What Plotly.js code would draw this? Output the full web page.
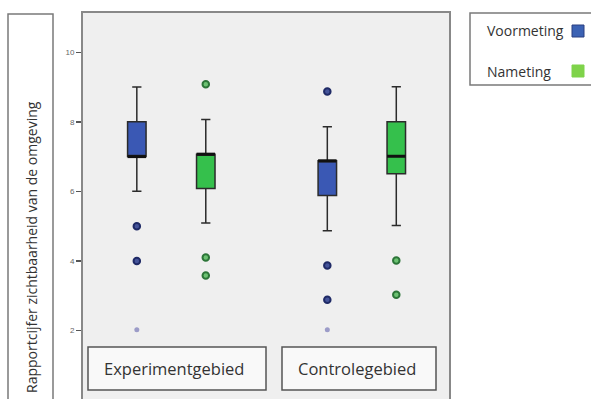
<!DOCTYPE html>
<html>
<head>
<meta charset="utf-8">
<script src="https://cdn.plot.ly/plotly-3.0.1.min.js"></script>
<style>
  html, body { margin: 0; padding: 0; overflow: hidden; background: #ffffff; }
  #chart { width: 591px; height: 402px; }
</style>
</head>
<body>
<div id="chart"></div>
<script>
// Areas (groups along x) and the two measurement moments (series)
const groups = ['Experimentgebied', 'Controlegebied'];
const seriesNames = ['Voormeting', 'Nameting'];

// Box statistics per area, Voormeting
const voorLower  = [6.0, 4.87];
const voorQ1     = [7.0, 5.88];
const voorMedian = [7.0, 6.88];
const voorQ3     = [8.0, 6.88];
const voorUpper  = [9.0, 7.86];
const voorOutliers = [[5.0, 4.0], [8.87, 3.87, 2.88]];
const voorExtremes = [[2.02], [2.02]];

// Box statistics per area, Nameting
const naLower  = [5.09, 5.02];
const naQ1     = [6.08, 6.51];
const naMedian = [7.07, 7.01];
const naQ3     = [7.07, 8.0];
const naUpper  = [8.07, 9.01];
const naOutliers = [[9.08, 4.1, 3.58], [4.01, 3.03]];
const naExtremes = [[], []];

const yTicks = [0, 2, 4, 6, 8, 10];
const yTitle = 'Rapportcijfer zichtbaarheid van de omgeving';

// ---- styling ----
const boxFill = ['#3a58b4', '#35c04c'];
const swatchFill = ['#3b62b4', '#7fd34a'];
const outFill = ['#45549a', '#6cc272'];
const outLine = ['#1f2a66', '#2c7538'];
const extremeColor = '#9c9cc8';
const seriesOffset = [-0.181, 0.181];
const boxWidth = 0.097;

const series = [
  { lower: voorLower, q1: voorQ1, med: voorMedian, q3: voorQ3, upper: voorUpper, out: voorOutliers, ext: voorExtremes },
  { lower: naLower, q1: naQ1, med: naMedian, q3: naQ3, upper: naUpper, out: naOutliers, ext: naExtremes }
];

const traces = [];
series.forEach((s, si) => {
  const xs = groups.map((g, gi) => gi + seriesOffset[si]);
  // boxes with whiskers
  traces.push({
    type: 'box', name: seriesNames[si], x: xs,
    q1: s.q1, median: s.med, q3: s.q3, lowerfence: s.lower, upperfence: s.upper,
    width: boxWidth, whiskerwidth: 0.5,
    fillcolor: boxFill[si], line: { color: '#2b2b2b', width: 1.5 },
    hoverinfo: 'skip', showlegend: false
  });
  // heavy median bars
  groups.forEach((g, gi) => {
    traces.push({
      type: 'scatter', mode: 'lines',
      x: [xs[gi] - boxWidth / 2, xs[gi] + boxWidth / 2],
      y: [s.med[gi], s.med[gi]],
      line: { color: '#111111', width: 3 },
      hoverinfo: 'skip', showlegend: false
    });
  });
  // outliers (circles) and extremes (small dots)
  const ox = [], oy = [], ex = [], ey = [];
  groups.forEach((g, gi) => {
    s.out[gi].forEach(v => { ox.push(xs[gi]); oy.push(v); });
    s.ext[gi].forEach(v => { ex.push(xs[gi]); ey.push(v); });
  });
  traces.push({
    type: 'scatter', mode: 'markers', x: ox, y: oy,
    marker: { size: 6.5, color: outFill[si], line: { color: outLine[si], width: 2 } },
    hoverinfo: 'skip', showlegend: false
  });
  if (ex.length) {
    traces.push({
      type: 'scatter', mode: 'markers', x: ex, y: ey,
      marker: { size: 5, color: extremeColor },
      hoverinfo: 'skip', showlegend: false
    });
  }
});

// pixel -> paper helpers for the decorations around the plot area
const PL = 83, PR = 449, PT = 13, PB = 400;
const px = x => (x - PL) / (PR - PL);
const py = y => (PB - y) / (PB - PT);

const frame = '#7a7a7a';
const shapes = [
  // y-title frame
  { type: 'rect', xref: 'paper', yref: 'paper', x0: px(8), x1: px(53), y0: py(430), y1: py(14), line: { color: frame, width: 1.5 } },
  // legend frame
  { type: 'rect', xref: 'paper', yref: 'paper', x0: px(470), x1: px(620), y0: py(85), y1: py(13), line: { color: frame, width: 1.5 } },
  // legend swatches
  { type: 'rect', xref: 'paper', yref: 'paper', x0: px(572), x1: px(584), y0: py(37), y1: py(25), fillcolor: swatchFill[0], line: { color: '#2a3f80', width: 1 } },
  { type: 'rect', xref: 'paper', yref: 'paper', x0: px(572), x1: px(584), y0: py(77), y1: py(65), fillcolor: swatchFill[1], line: { color: '#7fd34a', width: 1 } },
  // area label frames
  { type: 'rect', xref: 'paper', yref: 'paper', x0: px(88), x1: px(266), y0: py(390), y1: py(347), fillcolor: '#f9f9f9', line: { color: '#555555', width: 1.5 } },
  { type: 'rect', xref: 'paper', yref: 'paper', x0: px(282), x1: px(436), y0: py(390), y1: py(347), fillcolor: '#f9f9f9', line: { color: '#555555', width: 1.5 } }
];

const txt = '#333333';
const ann = (x, y, text, size, extra) => Object.assign({
  xref: 'paper', yref: 'paper', x: px(x), y: py(y), text: text, showarrow: false,
  xanchor: 'center', yanchor: 'middle',
  font: { family: 'Open Sans', size: size, color: txt }
}, extra || {});

const annotations = [
  ann(31, 247, yTitle, 14, { textangle: -90 }),
  ann(485, 31, seriesNames[0], 14, { xanchor: 'left' }),
  ann(485, 71, seriesNames[1], 14, { xanchor: 'left' }),
  ann(174, 368, groups[0], 16.5),
  ann(357, 368, groups[1], 16.5)
];

const layout = {
  width: 591, height: 402,
  margin: { l: PL, r: 591 - PR, t: PT, b: 402 - PB },
  paper_bgcolor: '#ffffff', plot_bgcolor: '#efefef',
  showlegend: false, boxmode: 'overlay',
  xaxis: {
    range: [-0.4635, 1.4577], showticklabels: false, ticks: '', showgrid: false, zeroline: false,
    showline: true, mirror: true, linecolor: '#888888', linewidth: 2
  },
  yaxis: {
    range: [0, 11.13], tickvals: yTicks, ticktext: yTicks.map(String),
    ticks: 'outside', ticklen: 5, tickwidth: 1.5, tickcolor: '#555555',
    tickfont: { family: 'Liberation Sans', size: 8, color: '#666666' },
    showgrid: false, zeroline: false,
    showline: true, mirror: true, linecolor: '#888888', linewidth: 2
  },
  shapes: shapes,
  annotations: annotations
};

Plotly.newPlot('chart', traces, layout, { staticPlot: true, displayModeBar: false });
</script>
</body>
</html>
